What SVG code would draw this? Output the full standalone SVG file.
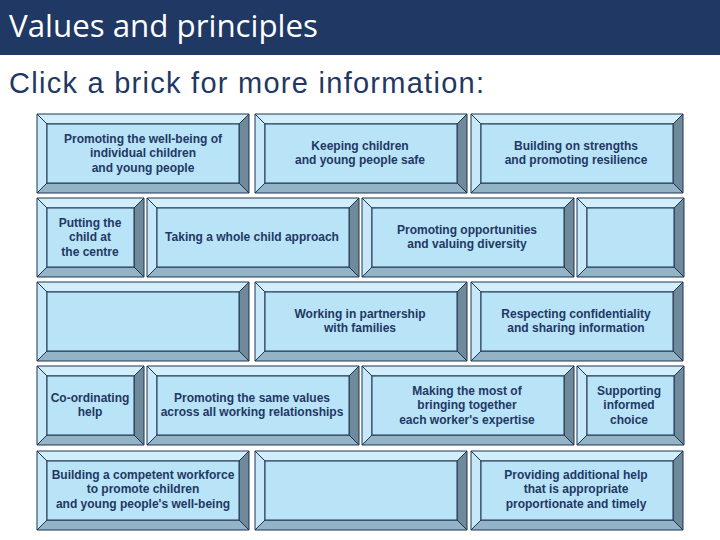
<svg xmlns="http://www.w3.org/2000/svg" xmlns:xlink="http://www.w3.org/1999/xlink" width="720" height="540" viewBox="0 0 720 540">
<style>
.ol{stroke:#1f3552;stroke-width:1;stroke-linejoin:round}
.top{fill:#d3eefb}
.lft{fill:#c7e8f8}
.rgt{fill:#6f8a9a}
.bot{fill:#93b3c6}
.face{fill:#b9e3f7}
.lbl{font-family:"Liberation Sans",Arial,sans-serif;font-size:12px;font-weight:bold;fill:#1f3864;text-anchor:middle}
</style>
<defs>
<symbol id="bw" overflow="visible">
<polygon class="top ol" points="0,0 212,0 202,10 10,10"/>
<polygon class="lft ol" points="0,0 10,10 10,69 0,79"/>
<polygon class="rgt ol" points="212,0 212,79 202,69 202,10"/>
<polygon class="bot ol" points="0,79 10,69 202,69 212,79"/>
<rect class="face ol" x="10" y="10" width="192" height="59"/>
</symbol>
<symbol id="bs" overflow="visible">
<polygon class="top ol" points="0,0 107,0 97,10 10,10"/>
<polygon class="lft ol" points="0,0 10,10 10,69 0,79"/>
<polygon class="rgt ol" points="107,0 107,79 97,69 97,10"/>
<polygon class="bot ol" points="0,79 10,69 97,69 107,79"/>
<rect class="face ol" x="10" y="10" width="87" height="59"/>
</symbol>
</defs>
<rect x="0" y="0" width="720" height="540" fill="#ffffff"/>
<g id="header">
<rect x="0" y="0" width="720" height="55" fill="#1f3864"/>
<text x="9" y="37" font-family="'Open Sans',sans-serif" font-size="31" fill="#ffffff" textLength="309" lengthAdjust="spacingAndGlyphs">Values and principles</text>
<text x="9" y="93" font-family="'Liberation Sans',Arial,sans-serif" font-size="29" fill="#1f3864" textLength="475" lengthAdjust="spacing">Click a brick for more information:</text>
</g>
<g id="connectors"/>
<g id="brick-a1"><use xlink:href="#bw" x="37" y="114"/><text class="lbl" x="143" y="143">Promoting the well-being of</text><text class="lbl" x="143" y="157">individual children</text><text class="lbl" x="143" y="172">and young people</text></g>
<g id="brick-a2"><use xlink:href="#bw" x="255" y="114"/><text class="lbl" x="360" y="150">Keeping children</text><text class="lbl" x="360" y="164">and young people safe</text></g>
<g id="brick-a3"><use xlink:href="#bw" x="471" y="114"/><text class="lbl" x="576" y="150">Building on strengths</text><text class="lbl" x="576" y="164">and promoting resilience</text></g>
<g id="brick-b1"><use xlink:href="#bs" x="37" y="198"/><text class="lbl" x="90" y="227">Putting the</text><text class="lbl" x="90" y="241">child at</text><text class="lbl" x="90" y="256">the centre</text></g>
<g id="brick-b2"><use xlink:href="#bw" x="147" y="198"/><text class="lbl" x="252" y="241">Taking a whole child approach</text></g>
<g id="brick-b3"><use xlink:href="#bw" x="362" y="198"/><text class="lbl" x="467" y="234">Promoting opportunities</text><text class="lbl" x="467" y="248">and valuing diversity</text></g>
<g id="brick-b4"><use xlink:href="#bs" x="577" y="198"/></g>
<g id="brick-c1"><use xlink:href="#bw" x="37" y="282"/></g>
<g id="brick-c2"><use xlink:href="#bw" x="255" y="282"/><text class="lbl" x="360" y="318">Working in partnership</text><text class="lbl" x="360" y="332">with families</text></g>
<g id="brick-c3"><use xlink:href="#bw" x="471" y="282"/><text class="lbl" x="576" y="318">Respecting confidentiality</text><text class="lbl" x="576" y="332">and sharing information</text></g>
<g id="brick-d1"><use xlink:href="#bs" x="37" y="366"/><text class="lbl" x="90" y="402">Co-ordinating</text><text class="lbl" x="90" y="416">help</text></g>
<g id="brick-d2"><use xlink:href="#bw" x="147" y="366"/><text class="lbl" x="252" y="402">Promoting the same values</text><text class="lbl" x="252" y="416">across all working relationships</text></g>
<g id="brick-d3"><use xlink:href="#bw" x="362" y="366"/><text class="lbl" x="467" y="395">Making the most of</text><text class="lbl" x="467" y="409">bringing together</text><text class="lbl" x="467" y="424">each worker's expertise</text></g>
<g id="brick-d4"><use xlink:href="#bs" x="577" y="366"/><text class="lbl" x="629" y="395">Supporting</text><text class="lbl" x="629" y="409">informed</text><text class="lbl" x="629" y="424">choice</text></g>
<g id="brick-e1"><use xlink:href="#bw" x="37" y="451"/><text class="lbl" x="143" y="479">Building a competent workforce</text><text class="lbl" x="143" y="493">to promote children</text><text class="lbl" x="143" y="508">and young people's well-being</text></g>
<g id="brick-e2"><use xlink:href="#bw" x="255" y="451"/></g>
<g id="brick-e3"><use xlink:href="#bw" x="471" y="451"/><text class="lbl" x="576" y="479">Providing additional help</text><text class="lbl" x="576" y="493">that is appropriate</text><text class="lbl" x="576" y="508">proportionate and timely</text></g>
</svg>
